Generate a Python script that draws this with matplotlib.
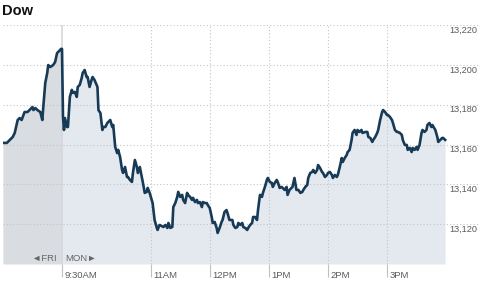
import matplotlib
matplotlib.use("Agg")
import matplotlib.pyplot as plt
import matplotlib.transforms as mtransforms
import numpy as np

plt.rcParams['font.family'] = ['Liberation Sans', 'DejaVu Sans']

# minutes relative to Monday 9:30AM open (negative = Friday 3PM-4PM)
minutes = [
    -60, -56, -53, -50, -48, -45, -43, -41, -38, -35, -30, -29, -27, -25, -22, -20, -19, -17, -15, -14,
    -12, -9, -7, -5, -4, -2, -1, 0,
    1, 2, 3, 5, 6, 8, 10, 11, 13, 15, 16, 18, 20, 21, 23, 25, 26, 28, 30, 31, 33, 36, 37, 39, 41, 42,
    44, 46, 47, 49, 51, 52, 54, 56, 57, 59, 61, 62, 64, 66, 67, 69, 71, 72, 74, 76, 77, 79, 81, 82,
    84, 86, 87, 89, 91, 92, 94, 96, 97, 99, 103, 105, 107, 108, 110, 112, 113, 115, 117, 118, 120,
    122, 123, 125, 127, 128, 130, 132, 133, 135, 137, 138, 140, 142, 143, 145, 147, 148, 150, 152,
    153, 155, 157, 158, 160, 162, 163, 165, 167, 168, 170, 173, 174, 176, 178, 179, 181, 183, 184,
    186, 188, 189, 191, 193, 194, 196, 198, 199, 201, 203, 204, 206, 208, 209, 211, 213, 214, 216,
    218, 219, 221, 223, 224, 226, 228, 229, 231, 233, 234, 236, 238, 240, 242, 244, 245, 247, 249,
    250, 252, 254, 255, 257, 259, 260, 262, 264, 265, 267, 269, 270, 272, 274, 275, 277, 279, 280,
    282, 284, 285, 287, 289, 290, 292, 294, 295, 297, 299, 300, 302, 304, 305, 308, 310, 311, 313,
    315, 316, 318, 320, 321, 323, 325, 326, 328, 330, 331, 333, 335, 336, 338, 340, 341, 343, 345,
    346, 348, 350, 351, 353, 355, 356, 358, 360, 361, 363, 365, 366, 368, 370, 371, 373, 375, 376,
    379, 381, 382, 384, 386, 387, 389,
]
dow = [
    13160.8, 13160.8, 13162.3, 13163.8, 13165.8, 13172.3, 13173.3, 13172.3, 13176.3, 13176.3, 13178.8,
    13177.3, 13178.3, 13177.3, 13176.3, 13172.3, 13178.8, 13190.9, 13195.9, 13199.9,
    13198.9, 13199.9, 13201.4, 13205.9, 13206.4, 13207.4, 13208.0, 13208.0,
    13174.0, 13167.3, 13173.3, 13168.8, 13168.8, 13183.9, 13187.4, 13185.9, 13186.4, 13183.9, 13188.9,
    13189.9, 13193.4, 13195.9, 13197.4, 13193.9, 13193.9, 13188.9, 13192.4, 13193.9, 13192.4, 13188.9,
    13177.3, 13175.8, 13167.3, 13168.8,
    13168.8, 13170.8, 13171.3, 13172.3, 13168.8, 13169.8, 13158.8, 13155.7, 13157.3, 13153.7, 13147.2,
    13145.7, 13148.7, 13143.7, 13143.7, 13142.2, 13141.2, 13145.7, 13152.2, 13148.7, 13145.7, 13148.7,
    13143.7, 13141.2,
    13135.7, 13136.2, 13138.2, 13135.7, 13132.2, 13130.6, 13122.1, 13118.6, 13117.1, 13119.6, 13118.6,
    13119.6, 13118.1, 13120.6, 13118.1, 13118.6, 13128.6, 13130.6, 13133.7, 13136.2, 13133.7,
    13134.7, 13132.2, 13130.6, 13135.7, 13134.7, 13133.7, 13132.2, 13133.2, 13131.1, 13132.2, 13130.6,
    13131.1, 13128.6, 13131.1, 13130.6, 13130.6, 13129.6, 13128.1, 13123.6,
    13120.6, 13121.1, 13118.1, 13115.6, 13118.1, 13121.1, 13122.1, 13126.1, 13127.1, 13125.6, 13122.1,
    13122.1, 13119.6, 13118.1, 13118.6, 13120.6, 13119.6, 13120.6, 13118.6,
    13118.1, 13117.1, 13118.1, 13119.6, 13120.6, 13123.6, 13123.6, 13122.1, 13127.1, 13134.7, 13133.7,
    13135.7, 13138.7, 13142.2, 13143.2, 13141.2, 13140.7, 13138.7, 13140.7,
    13142.2, 13141.2, 13138.2, 13138.7, 13138.2, 13137.2, 13138.7, 13134.7, 13137.2, 13138.2, 13138.7,
    13143.2, 13137.2, 13137.2, 13135.7, 13136.2, 13137.2, 13138.7, 13139.7,
    13143.2, 13145.7, 13146.2, 13147.2, 13145.7, 13147.2, 13149.7, 13148.2, 13146.2, 13145.7, 13143.7,
    13144.7, 13145.7, 13146.2, 13144.7, 13143.2, 13144.7, 13143.7, 13144.7,
    13148.7, 13153.2, 13151.2, 13153.2, 13154.7, 13156.2, 13157.3, 13162.3, 13165.8, 13167.3, 13164.8,
    13167.3, 13166.3, 13167.3, 13165.8, 13166.3, 13166.3, 13163.8, 13163.3,
    13161.3, 13162.3, 13163.8, 13165.8, 13167.3, 13172.3, 13176.3, 13177.3, 13176.3, 13174.8, 13174.8,
    13173.8, 13172.3, 13170.8, 13167.3, 13166.3, 13166.3, 13165.8, 13164.8,
    13162.3, 13159.8, 13159.8, 13157.3, 13158.3, 13156.2, 13158.3, 13157.3, 13158.8, 13157.3, 13159.8,
    13165.8, 13167.3, 13166.3, 13167.3, 13169.8, 13170.8, 13168.8, 13169.8,
    13167.3, 13163.8, 13161.3, 13162.3, 13163.3, 13163.3, 13162.3,
]

y_ticks = [13120, 13140, 13160, 13180, 13200, 13220]
y_labels = ["13,120", "13,140", "13,160", "13,180", "13,200", "13,220"]
x_ticks = [0, 90, 150, 210, 270, 330]
x_labels = ["9:30AM", "11AM", "12PM", "1PM", "2PM", "3PM"]

W, H = 482, 281
fig = plt.figure(figsize=(W / 100, H / 100), dpi=100)
left_px, right_px, top_px, bot_px = 3, 480, 25, 264
ax = fig.add_axes([left_px / W, 1 - bot_px / H, (right_px - left_px) / W, (bot_px - top_px) / H])

ppm = 0.985  # pixels per minute
xmin = -(62 - left_px) / ppm
xmax = (right_px - 62) / ppm
ymin, ymax = 13100, 13220
ax.set_xlim(xmin, xmax)
ax.set_ylim(ymin, ymax)
for s in ax.spines.values():
    s.set_visible(False)

t = np.array(minutes, dtype=float)
v = np.array(dow, dtype=float)
fri = t <= 0
mon = t >= 0
ax.fill_between(t[fri], v[fri], ymin, color="#d9dde1", lw=0, zorder=1)
ax.fill_between(t[mon], v[mon], ymin, color="#e4e9ef", lw=0, zorder=1)

grid_kw = dict(color="#c4c4c4", lw=0.8, linestyle=(0, (1, 2)), zorder=2)
for yt in y_ticks:
    ax.axhline(yt, **grid_kw)
ax.axhline(ymin, **grid_kw)
for xt in x_ticks[1:]:
    ax.axvline(xt, **grid_kw)
ax.axvline(0, color="#d4d8dc", lw=1.2, zorder=2)

ax.plot(t, v, color="#173a56", lw=1.9, zorder=3, solid_joinstyle="round")

ax.set_yticks([])
ax.set_xticks(x_ticks)
ax.set_xticklabels([])
ax.tick_params(axis="x", length=9.5, width=0.8, color="#c0c0c0", direction="out")

# x tick labels, to the right of tick lines
for xt, lab in zip(x_ticks, x_labels):
    tr = mtransforms.blended_transform_factory(ax.transData, ax.transAxes) + \
        mtransforms.ScaledTranslation(2.5 / 100, -11 / 100, fig.dpi_scale_trans)
    ax.text(xt, 0, lab, transform=tr, ha="left", va="center", fontsize=6.8,
            color="#5a5a5a", clip_on=False)

# y labels, right side under gridlines
for yt, lab in zip(y_ticks, y_labels):
    tr = mtransforms.blended_transform_factory(ax.transAxes, ax.transData) + \
        mtransforms.ScaledTranslation(-3 / 100, -5 / 100, fig.dpi_scale_trans)
    ax.text(1, yt, lab, transform=tr, ha="right", va="center", fontsize=6.6,
            color="#5a5a5a", clip_on=False)

# FRI / MON markers
trd = mtransforms.blended_transform_factory(ax.transData, ax.transAxes)
ax.text(0, 0, "\u25c4FRI ", transform=trd + mtransforms.ScaledTranslation(-3 / 100, 6 / 100, fig.dpi_scale_trans),
        ha="right", va="center", fontsize=6.8, color="#666666")
ax.text(0, 0, "MON\u25ba", transform=trd + mtransforms.ScaledTranslation(3 / 100, 6 / 100, fig.dpi_scale_trans),
        ha="left", va="center", fontsize=6.8, color="#666666")

fig.text(2 / W, 1 - 11 / H, "Dow", fontsize=10.5, fontweight="bold", color="#111111",
         ha="left", va="center")

fig.savefig("out.png", dpi=100)
